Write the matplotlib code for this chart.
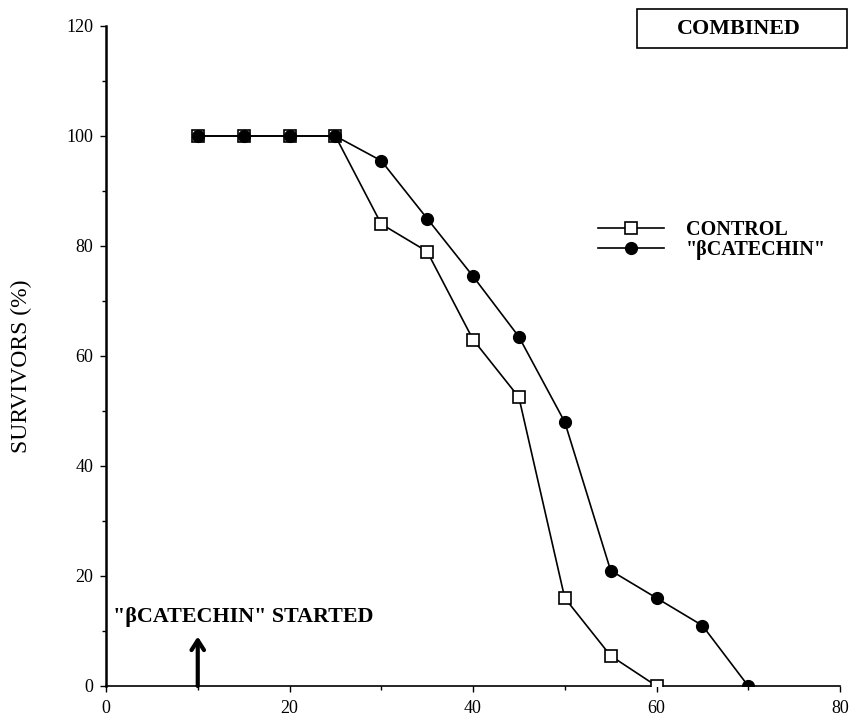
import matplotlib
matplotlib.use("Agg")
import matplotlib.pyplot as plt
from matplotlib.patches import Rectangle

plt.rcParams['font.family'] = ['Liberation Serif', 'DejaVu Serif']

# days
days_control = [10, 15, 20, 25, 30, 35, 40, 45, 50, 55, 60]
surv_control = [100, 100, 100, 100, 84, 79, 63, 52.5, 16, 5.5, 0]

days_catechin = [10, 15, 20, 25, 30, 35, 40, 45, 50, 55, 60, 65, 70]
surv_catechin = [100, 100, 100, 100, 95.5, 85, 74.5, 63.5, 48, 21, 16, 11, 0]

xticks = [0, 20, 40, 60, 80]
yticks = [0, 20, 40, 60, 80, 100, 120]
start_day = 10

fig = plt.figure(figsize=(8.55, 7.18), dpi=100)
ax = fig.add_axes([106 / 855, 1 - 686 / 718, 734 / 855, 660 / 718])

ax.plot(days_control, surv_control, color='black', lw=1.2, marker='s', ms=9,
        mfc='white', mec='black', mew=1.2, label='CONTROL', zorder=3)
ax.plot(days_catechin, surv_catechin, color='black', lw=1.2, marker='o', ms=8.5,
        mfc='black', mec='black', label='"βCATECHIN"', zorder=4)

ax.set_xlim(0, 80)
ax.set_ylim(0, 120)
ax.set_xticks(xticks)
ax.set_xticks([10, 30, 50, 70], minor=True)
ax.set_yticks(yticks)
ax.set_yticks([10, 30, 50, 70, 90, 110], minor=True)
ax.tick_params(axis='both', which='major', length=4, width=1, labelsize=13, direction='out')
ax.tick_params(axis='both', which='minor', length=3, width=1, direction='out')
ax.tick_params(axis='x', pad=6)
ax.tick_params(axis='y', pad=5)

for s in ['top', 'right']:
    ax.spines[s].set_visible(False)
ax.spines['left'].set_linewidth(1.8)
ax.spines['bottom'].set_linewidth(1.2)

ax.set_ylabel('SURVIVORS (%)', fontsize=17)
ax.yaxis.set_label_coords(-0.101, 0.485)

ax.annotate('', xy=(start_day, 9), xytext=(start_day, 0),
            arrowprops=dict(arrowstyle='->, head_length=0.7, head_width=0.45', lw=3, color='black',
                            shrinkA=0, shrinkB=0))
ax.text(0.8, 12.5, '"βCATECHIN" STARTED', fontsize=15.8, fontweight='bold', va='center', ha='left')

leg = ax.legend(loc='upper left', bbox_to_anchor=(598 / 855, 1 - 220 / 718),
                bbox_transform=fig.transFigure, frameon=False,
                prop={'size': 14.5, 'weight': 'bold'},
                handlelength=3.3, handletextpad=1.05, labelspacing=0.0,
                borderpad=0, borderaxespad=0, numpoints=1)

fig.patches.append(Rectangle((637 / 855, 1 - 48 / 718), 210 / 855, 39 / 718,
                             transform=fig.transFigure, fill=False, edgecolor='black', lw=1.2))
fig.text(739 / 855, 1 - 29 / 718, 'COMBINED', fontsize=15.8, fontweight='bold',
         ha='center', va='center')

fig.savefig('out.png', dpi=100)
